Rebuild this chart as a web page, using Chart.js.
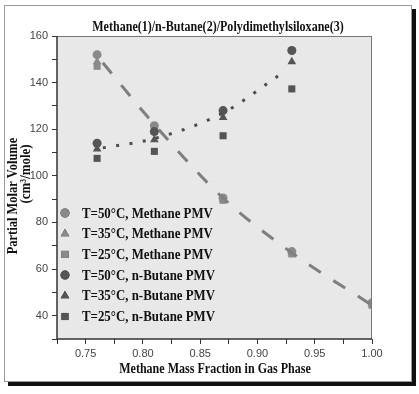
<!DOCTYPE html>
<html>
<head>
<meta charset="utf-8">
<script src="https://cdn.jsdelivr.net/npm/chart.js@4/dist/chart.umd.min.js"></script>
<style>
  html, body { margin:0; padding:0; background:#fff; }
  #frame { position:absolute; left:4px; top:5px; width:406px; height:375px; border:1px solid #9a9a9a; box-shadow:4px 4px 0 #111; background:#fff; }
  #c { position:absolute; left:0; top:0; }
</style>
</head>
<body>
<div id="frame"></div>
<canvas id="c" width="419" height="394"></canvas>
<script>
// ---- data ----
const chartTitle = "Methane(1)/n-Butane(2)/Polydimethylsiloxane(3)";
const xTitle = "Methane Mass Fraction in Gas Phase";
const yTitleLine1 = "Partial Molar Volume";
const yTitleLine2 = "(cm\u00B3/mole)";

const xMethane = [0.76, 0.81, 0.87, 0.93, 1.00];
const methane50 = [152, 121.5, 90.5, 67.5, 45.5];
const methane35 = [149, 120, 90, 67, 45];
const methane25 = [147, 119, 89.5, 66.5, 44.5];

const xButane = [0.76, 0.81, 0.87, 0.93];
const butane50 = [114, 119, 128, 153.8];
const butane35 = [111.5, 115.5, 125, 149];
const butane25 = [107.5, 110.5, 117.2, 137.3];

const methaneFitX = [0.765, 0.81, 0.87, 0.93, 1.00];
const methaneFitY = [148.5, 122, 90.5, 67, 44.5];
const butaneFitX = [0.765, 0.81, 0.87, 0.92];
const butaneFitY = [112, 116, 127, 143.5];

const legendLabels = [
  "T=50\u00B0C, Methane PMV",
  "T=35\u00B0C, Methane PMV",
  "T=25\u00B0C, Methane PMV",
  "T=50\u00B0C, n-Butane PMV",
  "T=35\u00B0C, n-Butane PMV",
  "T=25\u00B0C, n-Butane PMV"
];

const xTickValues = [0.725, 0.75, 0.775, 0.80, 0.825, 0.85, 0.875, 0.90, 0.925, 0.95, 0.975, 1.00];
const xTickLabels = ["", "0.75", "", "0.80", "", "0.85", "", "0.90", "", "0.95", "", "1.00"];
const yTickValues = [30, 40, 50, 60, 70, 80, 90, 100, 110, 120, 130, 140, 150, 160];
const yTickLabels = ["", "40", "", "60", "", "80", "", "100", "", "120", "", "140", "", "160"];

// ---- styling ----
const METH = "#8a8a8a";
const BUT = "#555555";
const pts = (xs, ys) => xs.map((x, i) => ({ x: x, y: ys[i] }));

function markerSet(label, xs, ys, color, style, r, order) {
  return {
    type: "scatter", label: label, data: pts(xs, ys),
    pointStyle: style, pointRadius: r, pointHoverRadius: r,
    backgroundColor: color, borderColor: color, borderWidth: 0,
    showLine: false, clip: 0, order: order, isMarker: true
  };
}

const datasets = [
  markerSet(legendLabels[0], xMethane, methane50, METH, "circle", 4.5, 10),
  markerSet(legendLabels[1], xMethane, methane35, METH, "triangle", 5, 9),
  markerSet(legendLabels[2], xMethane, methane25, METH, "rect", 5, 8),
  markerSet(legendLabels[3], xButane, butane50, BUT, "circle", 4.5, 5),
  markerSet(legendLabels[4], xButane, butane35, BUT, "triangle", 5, 4),
  markerSet(legendLabels[5], xButane, butane25, BUT, "rect", 5, 3),
  {
    type: "line", label: "methane fit", data: pts(methaneFitX, methaneFitY),
    borderColor: "#7f7f7f", borderWidth: 3, borderDash: [14, 15],
    pointRadius: 0, tension: 0.35, cubicInterpolationMode: "monotone", fill: false, clip: 0, order: 7
  },
  {
    type: "line", label: "butane fit", data: pts(butaneFitX, butaneFitY),
    borderColor: "#4d4d4d", borderWidth: 3, borderDash: [3, 10.5],
    pointRadius: 0, cubicInterpolationMode: "monotone", fill: false, clip: 0, order: 2
  }
];

function squeezedText(ctx, text, x, y, sx, rot) {
  ctx.save();
  ctx.translate(x, y);
  if (rot) ctx.rotate(rot);
  ctx.scale(sx, 1);
  ctx.fillText(text, 0, 0);
  ctx.restore();
}

const decor = {
  id: "decor",
  beforeDraw(chart) {
    const { ctx, chartArea: a } = chart;
    ctx.save();
    ctx.fillStyle = "#e8e8e8";
    ctx.fillRect(a.left, a.top, a.right - a.left, a.bottom - a.top);
    ctx.restore();
  },
  afterDraw(chart) {
    const { ctx, chartArea: a } = chart;
    ctx.save();
    // plot frame
    ctx.lineWidth = 1;
    ctx.strokeStyle = "#777";
    ctx.beginPath();
    ctx.moveTo(a.left, a.top + 0.5); ctx.lineTo(a.right, a.top + 0.5);
    ctx.moveTo(a.right - 0.5, a.top); ctx.lineTo(a.right - 0.5, a.bottom);
    ctx.stroke();
    ctx.strokeStyle = "#333";
    ctx.lineWidth = 1.5;
    ctx.beginPath();
    ctx.moveTo(a.left, a.top); ctx.lineTo(a.left, a.bottom);
    ctx.lineTo(a.right, a.bottom);
    ctx.stroke();

    // titles
    ctx.fillStyle = "#111";
    ctx.textAlign = "center";
    ctx.textBaseline = "alphabetic";
    ctx.font = "bold 14px 'Liberation Serif'";
    squeezedText(ctx, chartTitle, 218, 31, 0.86, 0);
    squeezedText(ctx, xTitle, 215, 373, 0.86, 0);
    squeezedText(ctx, yTitleLine1, 17, 196, 0.89, -Math.PI / 2);
    squeezedText(ctx, yTitleLine2, 30, 174, 0.92, -Math.PI / 2);

    // legend inside plot
    const markers = chart.data.datasets.filter(d => d.isMarker);
    ctx.textAlign = "left";
    ctx.textBaseline = "middle";
    ctx.font = "bold 14px 'Liberation Serif'";
    markers.forEach((d, i) => {
      const y = 213 + i * 20.7;
      Chart.helpers.drawPoint(ctx, {
        pointStyle: d.pointStyle, radius: d.pointRadius, rotation: 0, borderWidth: 0
      }, 65, y);
      ctx.fillStyle = d.backgroundColor;
      ctx.fill();
      ctx.fillStyle = "#111";
      squeezedText(ctx, d.label, 82, y + 1, 0.92, 0);
    });
    ctx.restore();
  }
};

Chart.defaults.font.family = "'Liberation Sans', Arial, sans-serif";

new Chart(document.getElementById("c"), {
  data: { datasets: datasets },
  options: {
    responsive: false,
    animation: false,
    layout: { padding: { top: 36, right: 47, left: 0, bottom: 0 } },
    plugins: { legend: { display: false }, title: { display: false }, tooltip: { enabled: false } },
    scales: {
      x: {
        type: "linear", min: 0.725, max: 1.0,
        afterBuildTicks: s => { s.ticks = xTickValues.map(v => ({ value: v })); },
        afterFit: s => { s.height = 55; },
        grid: { drawOnChartArea: false, drawTicks: true, tickLength: 5, color: "#333", tickColor: "#333" },
        border: { display: false },
        ticks: {
          autoSkip: false, maxRotation: 0, padding: 3, color: "#444",
          font: { size: 11 },
          callback: (v, i) => xTickLabels[i]
        }
      },
      y: {
        type: "linear", min: 30, max: 160,
        afterBuildTicks: s => { s.ticks = yTickValues.map(v => ({ value: v })); },
        afterFit: s => { s.width = 57; },
        grid: { drawOnChartArea: false, drawTicks: true, tickLength: 5, color: "#333", tickColor: "#333" },
        border: { display: false },
        ticks: {
          autoSkip: false, padding: 4, color: "#444",
          font: { size: 11 },
          callback: (v, i) => yTickLabels[i]
        }
      }
    }
  },
  plugins: [decor]
});
</script>
</body>
</html>
